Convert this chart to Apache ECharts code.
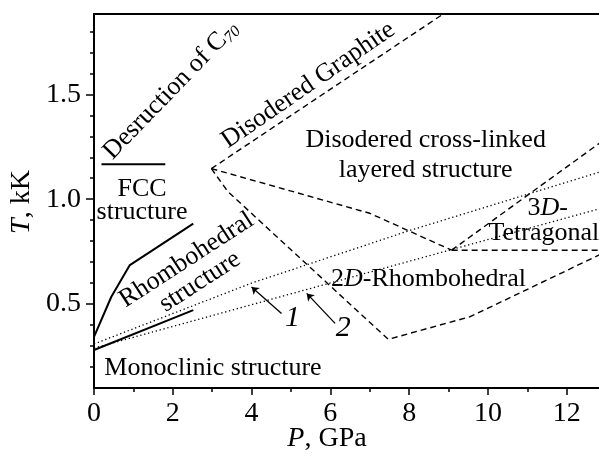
<!DOCTYPE html>
<html>
<head>
<meta charset="utf-8">
<script src="https://cdn.jsdelivr.net/npm/echarts@6/dist/echarts.min.js"></script>
<style>
  html, body { margin: 0; padding: 0; background: #fff; }
  #chart { width: 599px; height: 461px; }
</style>
</head>
<body>
<div id="chart"></div>
<script>
// 坐标轴刻度
var xMajorTicks = [0, 2, 4, 6, 8, 10, 12];
var xMinorTicks = [1, 3, 5, 7, 9, 11];
var yMajorTicks = [0.5, 1.0, 1.5];
var yMinorTicks = [0.2, 0.3, 0.4, 0.6, 0.7, 0.8, 0.9, 1.1, 1.2, 1.3, 1.4, 1.6, 1.7, 1.8];

// 相界 (P, GPa ; T, kK)
var fccBoundary = [[0, 0.344], [0.44, 0.535], [0.91, 0.686], [2.52, 0.884]];
var fccTop = [[0.19, 1.167], [1.81, 1.167]];
var monoclinicBoundary = [[0, 0.281], [2.52, 0.471]];
var graphiteBoundary = [[2.98, 1.146], [9.4, 1.95]];
var crossLinkedUpper = [[2.98, 1.146], [7.0, 0.933], [9.08, 0.757]];
var crossLinkedLower = [[2.98, 1.146], [3.40, 1.036], [7.47, 0.332], [9.55, 0.44], [13, 0.75]];
var tetragonalUpper = [[9.08, 0.757], [13, 1.29]];
var tetragonalLower = [[9.08, 0.757], [13, 0.757]];
var curve1 = [[0, 0.31], [4, 0.60], [8, 0.85], [13, 1.139]];
var curve2 = [[0, 0.29], [13, 0.963]];
var arrow1 = [[4.76, 0.455], [4.0, 0.582]];
var arrow2 = [[6.12, 0.408], [5.40, 0.551]];

// 区域标注
var regionLabels = [
    { text: 'Desruction of C{sub|70}', at: [1.95, 1.52], rotate: 46 },
    { text: 'Disodered Graphite', at: [5.44, 1.544], rotate: 34.5 },
    { text: 'Disodered cross-linked\nlayered structure', at: [8.42, 1.21], lineHeight: 30 },
    { text: 'FCC\nstructure', at: [1.22, 0.991], lineHeight: 23 },
    { text: 'Rhombohedral', at: [2.35, 0.71], rotate: 33 },
    { text: 'structure', at: [2.69, 0.606], rotate: 33 },
    { text: 'Monoclinic structure', at: [3.02, 0.195] },
    { text: '3{i|D}-', at: [11.52, 0.957] },
    { text: 'Tetragonal', at: [11.42, 0.838] },
    { text: '2{i|D}-Rhombohedral', at: [8.49, 0.619] },
    { text: '{n|1}', at: [5.04, 0.433] },
    { text: '{n|2}', at: [6.33, 0.384] }
];

var FONT = 'Liberation Serif';
var chart = echarts.init(document.getElementById('chart'));

function boundary(data, type, width) {
    return {
        type: 'line',
        data: data,
        symbol: 'none',
        silent: true,
        lineStyle: { color: '#000', width: width, type: type }
    };
}

function arrow(data) {
    return {
        type: 'lines',
        coordinateSystem: 'cartesian2d',
        silent: true,
        symbol: ['none', 'arrow'],
        symbolSize: 7,
        lineStyle: { color: '#000', width: 1.3, opacity: 1 },
        data: [{ coords: data }]
    };
}

var dashed = [6, 4];
var dotted = [1.3, 2.7];

chart.setOption({
    animation: false,
    backgroundColor: '#fff',
    grid: { left: 94, right: 0, top: 14, bottom: 73 },
    xAxis: [
        {
            type: 'value', position: 'bottom', min: 0, max: 12.82,
            splitLine: { show: false },
            axisLine: { lineStyle: { color: '#000', width: 2 } },
            axisTick: { customValues: xMajorTicks, length: 7, lineStyle: { color: '#000', width: 1.5 } },
            axisLabel: {
                customValues: xMajorTicks, margin: 12, color: '#000',
                fontFamily: FONT, fontSize: 28
            }
        },
        {
            type: 'value', position: 'bottom', min: 0, max: 12.82,
            splitLine: { show: false },
            axisLine: { show: false },
            axisTick: { customValues: xMinorTicks, length: 4, lineStyle: { color: '#000', width: 1.5 } },
            axisLabel: { show: false }
        },
        {
            type: 'value', position: 'top', min: 0, max: 12.82,
            splitLine: { show: false },
            axisLine: { lineStyle: { color: '#000', width: 2 } },
            axisTick: { show: false },
            axisLabel: { show: false }
        }
    ],
    yAxis: [
        {
            type: 'value', position: 'left', min: 0.1, max: 1.883,
            splitLine: { show: false },
            axisLine: { lineStyle: { color: '#000', width: 2 } },
            axisTick: { customValues: yMajorTicks, length: 8, lineStyle: { color: '#000', width: 1.5 } },
            axisLabel: {
                customValues: yMajorTicks, margin: 13, color: '#000',
                fontFamily: FONT, fontSize: 28,
                formatter: function (v) { return v.toFixed(1); }
            }
        },
        {
            type: 'value', position: 'left', min: 0.1, max: 1.883,
            splitLine: { show: false },
            axisLine: { show: false },
            axisTick: { customValues: yMinorTicks, length: 4, lineStyle: { color: '#000', width: 1.5 } },
            axisLabel: { show: false }
        }
    ],
    graphic: [
        {
            type: 'text', x: 327, y: 439,
            style: {
                text: '{i|P}, GPa', fontFamily: FONT, fontSize: 28, fill: '#000',
                align: 'center', verticalAlign: 'middle',
                rich: { i: { fontStyle: 'italic', fontFamily: FONT, fontSize: 28 } }
            }
        },
        {
            type: 'text', x: 22, y: 202, rotation: Math.PI / 2,
            style: {
                text: '{i|T}, kK', fontFamily: FONT, fontSize: 28, fill: '#000',
                align: 'center', verticalAlign: 'middle',
                rich: { i: { fontStyle: 'italic', fontFamily: FONT, fontSize: 28 } }
            }
        }
    ],
    series: [
        boundary(fccBoundary, 'solid', 2),
        boundary(fccTop, 'solid', 2),
        boundary(monoclinicBoundary, 'solid', 2),
        boundary(graphiteBoundary, dashed, 1.4),
        boundary(crossLinkedUpper, dashed, 1.4),
        boundary(crossLinkedLower, dashed, 1.4),
        boundary(tetragonalUpper, dashed, 1.4),
        boundary(tetragonalLower, dashed, 1.4),
        boundary(curve1, dotted, 1.3),
        boundary(curve2, dotted, 1.3),
        arrow(arrow1),
        arrow(arrow2),
        {
            type: 'scatter',
            silent: true,
            symbolSize: 0,
            z: 5,
            itemStyle: { opacity: 1 },
            label: {
                show: true, position: 'inside', color: '#000', opacity: 1,
                fontFamily: FONT, fontSize: 26,
                align: 'center', verticalAlign: 'middle',
                rich: {
                    sub: { fontFamily: FONT, fontSize: 16, fontStyle: 'italic', verticalAlign: 'bottom', padding: [12, 0, 0, 0] },
                    i: { fontFamily: FONT, fontSize: 26, fontStyle: 'italic' },
                    n: { fontFamily: FONT, fontSize: 30, fontStyle: 'italic' }
                }
            },
            data: regionLabels.map(function (l) {
                var item = { value: l.at, label: { formatter: l.text, rotate: l.rotate || 0 } };
                if (l.lineHeight) item.label.lineHeight = l.lineHeight;
                return item;
            })
        }
    ]
});
</script>
</body>
</html>
